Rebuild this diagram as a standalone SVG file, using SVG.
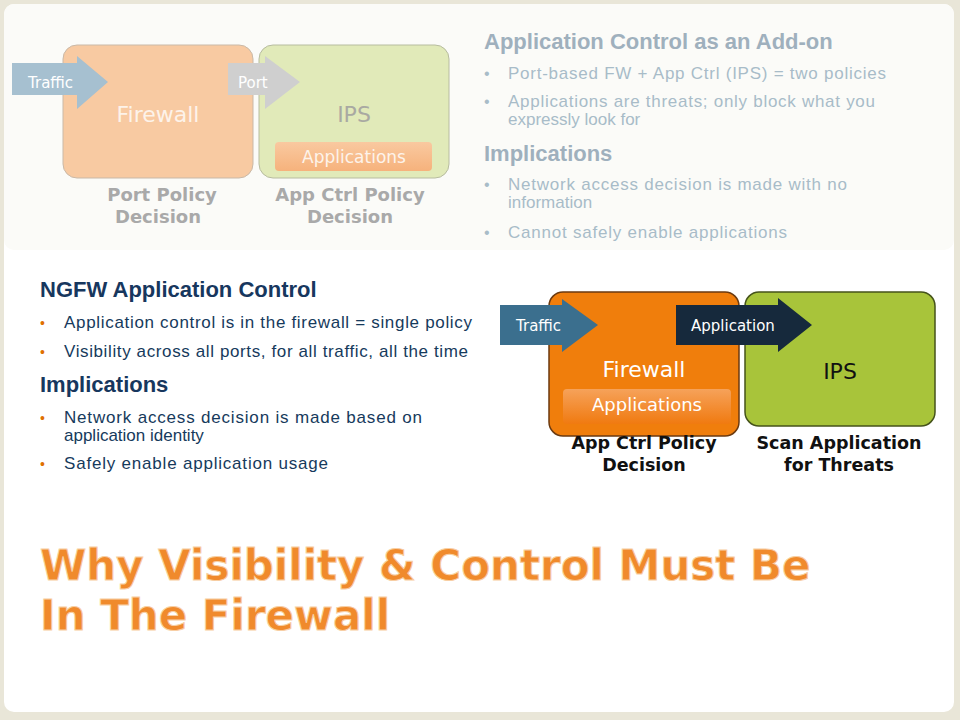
<svg xmlns="http://www.w3.org/2000/svg" width="960" height="720" viewBox="0 0 960 720">
<defs>
<style>
.v{font-family:"DejaVu Sans",Verdana,sans-serif}
.a{font-family:"Liberation Sans",Arial,sans-serif}
.b{font-weight:bold}
</style>
<linearGradient id="pill" x1="0" y1="0" x2="0" y2="1"><stop offset="0" stop-color="#f6a25a"/><stop offset="1" stop-color="#f07a10"/></linearGradient>
<linearGradient id="pillf" x1="0" y1="0" x2="0" y2="1"><stop offset="0" stop-color="#f9c9a0"/><stop offset="1" stop-color="#f6b27c"/></linearGradient>
</defs>
<rect width="960" height="720" fill="#e9e6d8"/>
<rect x="4" y="4" width="950" height="708" rx="10" fill="#ffffff"/>
<rect x="4" y="4" width="950" height="246" rx="10" fill="#fbfbf8"/>
<g id="top-firewall">
<rect x="63" y="45" width="190" height="133" rx="14" fill="#f8caa2" stroke="#c9b9a8"/>
<text x="158" y="122" text-anchor="middle" class="v" font-size="22" fill="#fdf3ea">Firewall</text>
<text x="162" y="201" text-anchor="middle" class="v b" font-size="18" fill="#a9a9a9">Port Policy</text>
<text x="158" y="223" text-anchor="middle" class="v b" font-size="18" fill="#a9a9a9">Decision</text>
</g>
<g id="top-ips">
<rect x="259" y="45" width="190" height="133" rx="14" fill="#e1eab9" stroke="#b7bca0"/>
<text x="354" y="122" text-anchor="middle" class="v" font-size="22" fill="#a9a9a2">IPS</text>
<rect x="275" y="142" width="157" height="29" rx="4" fill="url(#pillf)"/>
<text x="354" y="163" text-anchor="middle" class="v" font-size="17" fill="#fdf3ea">Applications</text>
<text x="350" y="201" text-anchor="middle" class="v b" font-size="18" fill="#a9a9a9">App Ctrl Policy</text>
<text x="350" y="223" text-anchor="middle" class="v b" font-size="18" fill="#a9a9a9">Decision</text>
</g>
<g id="bottom-firewall">
<rect x="549" y="292" width="190" height="144" rx="14" fill="#f07e0c" stroke="#6b3a10" stroke-width="1.5"/>
<text x="644" y="377" text-anchor="middle" class="v" font-size="22" fill="#ffffff">Firewall</text>
<rect x="563" y="389" width="168" height="35" rx="4" fill="url(#pill)"/>
<text x="647" y="411" text-anchor="middle" class="v" font-size="18" fill="#ffffff">Applications</text>
<text x="644" y="449" text-anchor="middle" class="v b" font-size="17.5" fill="#111">App Ctrl Policy</text>
<text x="644" y="471" text-anchor="middle" class="v b" font-size="17.5" fill="#111">Decision</text>
</g>
<g id="bottom-ips">
<rect x="745" y="292" width="190" height="134" rx="14" fill="#a8c43a" stroke="#45531a" stroke-width="1.5"/>
<text x="840" y="379" text-anchor="middle" class="v" font-size="22" fill="#111">IPS</text>
<text x="839" y="449" text-anchor="middle" class="v b" font-size="17.5" fill="#111">Scan Application</text>
<text x="839" y="471" text-anchor="middle" class="v b" font-size="17.5" fill="#111">for Threats</text>
</g>
<g id="connectors">
<polygon points="12,63 77,63 77,56 108,82 77,109 77,95 12,95" fill="#a6c0d0"/>
<text x="28" y="88" class="v" font-size="15" fill="#ffffff">Traffic</text>
<polygon points="228,63 265,63 265,56 300,82 265,109 265,95 228,95" fill="#cfcfcf"/>
<text x="238" y="88" class="v" font-size="15" fill="#ffffff">Port</text>
<polygon points="500,305 562,305 562,299 598,325 562,352 562,345 500,345" fill="#3b6f8e"/>
<text x="516" y="331" class="v" font-size="15" fill="#ffffff">Traffic</text>
<polygon points="676,305 778,305 778,298 812,325 778,352 778,345 676,345" fill="#16293c"/>
<text x="691" y="331" class="v" font-size="15" fill="#ffffff">Application</text>
</g>
<g id="top-text" class="a" fill="#a8bcc8">
<text x="484" y="49" font-size="22" font-weight="bold" fill="#9fb0bd">Application Control as an Add-on</text>
<text x="484" y="79" font-size="16">•</text><text x="508" y="79" font-size="17" textLength="378">Port-based FW + App Ctrl (IPS) = two policies</text>
<text x="484" y="107" font-size="16">•</text><text x="508" y="107" font-size="17" textLength="367">Applications are threats; only block what you</text>
<text x="508" y="125" font-size="17">expressly look for</text>
<text x="484" y="161" font-size="22" font-weight="bold" fill="#9fb0bd">Implications</text>
<text x="484" y="190" font-size="16">•</text><text x="508" y="190" font-size="17" textLength="339">Network access decision is made with no</text>
<text x="508" y="208" font-size="17">information</text>
<text x="484" y="238" font-size="16">•</text><text x="508" y="238" font-size="17" textLength="279">Cannot safely enable applications</text>
</g>
<g id="bottom-text" class="a" fill="#163a5c">
<text x="40" y="297" font-size="22" font-weight="bold" fill="#17375e">NGFW Application Control</text>
<text x="40" y="328" font-size="14" fill="#e07000">•</text><text x="64" y="328" font-size="17" textLength="408">Application control is in the firewall = single policy</text>
<text x="40" y="357" font-size="14" fill="#e07000">•</text><text x="64" y="357" font-size="17" textLength="404">Visibility across all ports, for all traffic, all the time</text>
<text x="40" y="392" font-size="22" font-weight="bold" fill="#17375e">Implications</text>
<text x="40" y="423" font-size="14" fill="#e07000">•</text><text x="64" y="423" font-size="17" textLength="358">Network access decision is made based on</text>
<text x="64" y="441" font-size="17">application identity</text>
<text x="40" y="469" font-size="14" fill="#e07000">•</text><text x="64" y="469" font-size="17" textLength="264">Safely enable application usage</text>
</g>
<g id="title" class="v b" font-size="42" fill="#f08a2c">
<text x="40" y="580" stroke="#f8cfa4" stroke-width="1">Why Visibility &amp; Control Must Be</text>
<text x="40" y="630" stroke="#f8cfa4" stroke-width="1">In The Firewall</text>
</g>
</svg>
